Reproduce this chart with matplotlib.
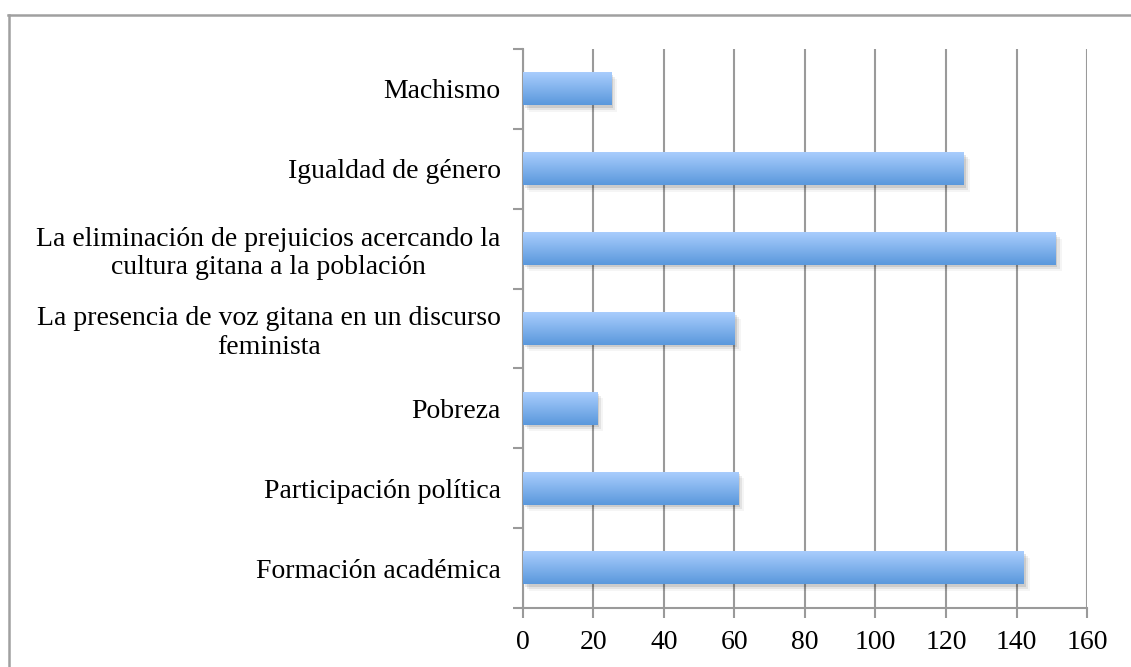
import numpy as np
import matplotlib
matplotlib.use("Agg")
import matplotlib.pyplot as plt
from matplotlib.patches import Rectangle
from matplotlib.colors import LinearSegmentedColormap
from matplotlib.lines import Line2D

# data (bottom to top)
categories = [
    "Formación académica",
    "Participación política",
    "Pobreza",
    "La presencia de voz gitana en un discurso\nfeminista",
    "La eliminación de prejuicios acercando la\ncultura gitana a la población",
    "Igualdad de género",
    "Machismo",
]
values = [142, 61, 21, 60, 151, 125, 25]
x_ticks = [0, 20, 40, 60, 80, 100, 120, 140, 160]

plt.rcParams['font.family'] = ['Liberation Serif', 'DejaVu Serif']

fig = plt.figure(figsize=(11.31, 6.67), dpi=100)
ax = fig.add_axes([0.4624, 0.0885, 0.4987, 0.838])

grad = LinearSegmentedColormap.from_list("bluegrad", ["#5a98dc", "#a9cdfd"])
bar_h = 0.41
y = np.arange(len(categories))

bars = ax.barh(y, values, height=bar_h, color="none", zorder=3)
g = np.linspace(0, 1, 100).reshape(-1, 1)
for b in bars:
    x0, y0 = b.get_x(), b.get_y()
    w, h = b.get_width(), b.get_height()
    # soft shadow
    for k, a in enumerate([0.10, 0.07, 0.04]):
        d = 0.6 + k * 0.6
        ax.add_patch(Rectangle((x0 + d, y0 - 0.03 - k * 0.025), w, h,
                               facecolor="black", alpha=a, lw=0, zorder=2))
    ax.imshow(g, cmap=grad, aspect="auto", origin="lower",
              extent=(x0, x0 + w, y0, y0 + h), zorder=3)

ax.set_xlim(0, 160)
ax.set_ylim(-0.5, len(categories) - 0.5)
ax.set_xticks(x_ticks)
ax.set_xticklabels([str(t) for t in x_ticks], fontsize=20)
ax.set_yticks(y)
ax.set_yticklabels(categories, fontsize=20, multialignment="center",
                   linespacing=1.2)
ax.set_yticks(np.arange(-0.5, len(categories), 1), minor=True)
ax.tick_params(axis="y", which="major", length=0, pad=16)
ax.tick_params(axis="y", which="minor", length=7, width=1.5, color="#9a9a9a")
ax.tick_params(axis="x", length=7, width=1.5, color="#9a9a9a", pad=9)

ax.grid(axis="x", color="#9a9a9a", lw=1.5, zorder=0)
ax.set_axisbelow(True)
for s in ["top", "right"]:
    ax.spines[s].set_visible(False)
for s in ["left", "bottom"]:
    ax.spines[s].set_color("#9a9a9a")
    ax.spines[s].set_linewidth(1.5)

# outer frame (partly cut off)
fig.add_artist(Line2D([8 / 1131, 1.0], [1 - 15 / 667, 1 - 15 / 667],
                      color="#a0a0a0", lw=1.8, transform=fig.transFigure))
fig.add_artist(Line2D([8.5 / 1131, 8.5 / 1131], [0, 1 - 15 / 667],
                      color="#a0a0a0", lw=1.8, transform=fig.transFigure))

fig.savefig("out.png", dpi=100)
